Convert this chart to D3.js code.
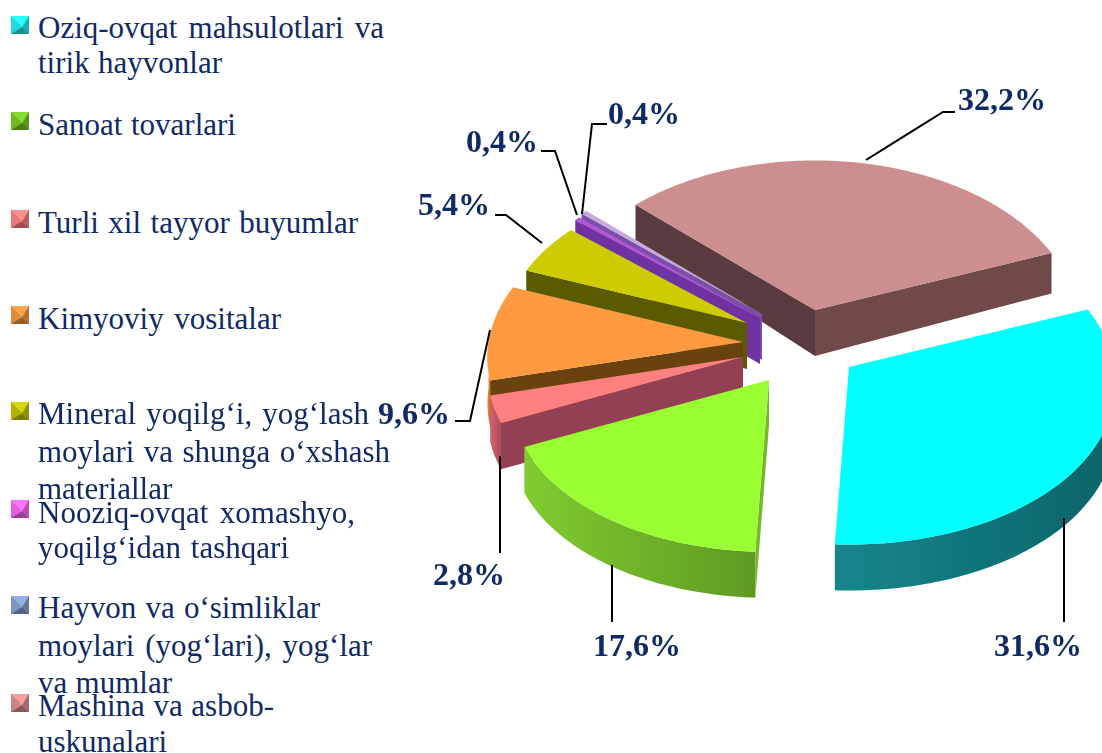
<!DOCTYPE html>
<html>
<head>
<meta charset="utf-8">
<style>
    html, body { margin: 0; padding: 0; background: #fff; }
    svg { display: block; }
    .legend text { font-family: "Liberation Serif", serif; font-size: 31px; fill: #0f2a66; }
    .label { font-family: "Liberation Serif", serif; font-size: 32px; font-weight: bold; fill: #0f2a66; }
    .leader { fill: none; stroke: #000; stroke-width: 2; }
</style>
</head>
<body>
<svg id="chart" width="1102" height="753"></svg>
<script src="https://cdn.jsdelivr.net/npm/d3@7"></script>
<script>
"use strict";

const categories = [
    "Oziq-ovqat mahsulotlari va tirik hayvonlar",
    "Sanoat tovarlari",
    "Turli xil tayyor buyumlar",
    "Kimyoviy vositalar",
    "Mineral yoqilg‘i, yog‘lash moylari va shunga o‘xshash materiallar",
    "Nooziq-ovqat xomashyo, yoqilg‘idan tashqari",
    "Hayvon va o‘simliklar moylari (yog‘lari), yog‘lar va mumlar",
    "Mashina va asbob-uskunalari",
];
const shares = [31.6, 17.6, 2.8, 9.6, 5.4, 0.4, 0.4, 32.2];

// how the legend text breaks on the page
const legendLines = [
    ["Oziq-ovqat mahsulotlari va", "tirik hayvonlar"],
    ["Sanoat tovarlari"],
    ["Turli xil tayyor buyumlar"],
    ["Kimyoviy vositalar"],
    ["Mineral yoqilg‘i, yog‘lash", "moylari va shunga o‘xshash", "materiallar"],
    ["Nooziq-ovqat xomashyo,", "yoqilg‘idan tashqari"],
    ["Hayvon va o‘simliklar", "moylari (yog‘lari), yog‘lar", "va mumlar"],
    ["Mashina va asbob-", "uskunalari"],
];

// colours, same order as the categories
const topColors =   ["#00ffff", "#99ff33", "#ff8080", "#ff9a40", "#cccc00", "#b455d8", "#c8a8e0", "#cc8e8e"];
const wallColors =  ["#0d6a6e", "#74b82c", "#933f55", "#6b420c", "#5a5a00", "#7030a0", "#7a50a8", "#5a3a3f"];
const wallColors2 = ["#0d6a6e", "#8ad62e", "#933f55", "#6b420c", "#5a5a00", "#7030a0", "#7a50a8", "#6f4a49"];
const rimLeft =     ["#14868c", "#80cc30", "#d8646e", "#e08a3a", "#a8a800", "#7030a0", "#7a50a8", "#5a3a3f"];
const rimRight =    ["#0d6468", "#5f9a22", "#a84a5a", "#c07830", "#8a8a00", "#7030a0", "#7a50a8", "#6f4a49"];
const swatchColors = ["#22d8dc", "#70b828", "#e87878", "#e08a40", "#b4b400", "#e060e0", "#7c94c0", "#cc8484"];

// layout of the exploded slices (slice tip on screen, slice size) and of the annotations
const tips = [[849, 367], [769, 380], [743, 357], [743, 342], [747, 323], [760, 318], [762, 314], [815, 310]];
const sizes = [1, 0.97, 0.96, 0.96, 0.92, 0.97, 0.97, 0.99];
const labelPos = [[994, 656], [593, 656], [433, 585], [378, 424], [418, 215], [466, 152], [608, 124], [958, 110]];
const leaders = [
    [[1064, 518], [1064, 622]],
    [[612, 565], [612, 622]],
    [[500, 456], [500, 553]],
    [[490, 330], [470, 421], [455, 421]],
    [[542, 243], [506, 215], [495, 215]],
    [[577, 215], [555, 151], [541, 151]],
    [[582, 214], [592, 124], [607, 124]],
    [[866, 160], [943, 112], [955, 112]],
];
const legendBaselines = [[38, 73], [135], [233], [329], [424, 462, 499], [523, 558], [618, 656, 693], [716, 752]];
const legendLineEnds = [[384, 222], [236], [358], [281], [369, 390, 172], [355, 289], [320, 372, 172], [274, 167]];
const swatchY = [16, 112, 210, 306, 402, 500, 596, 694];

const radiusX = 265, radiusY = 166, perspective = 0.1, depth = 46;
const startDeg = 69;
const rad = Math.PI / 180;

const svg = d3.select("#chart");
const defs = svg.append("defs");
defs.append("filter").attr("id", "soft")
    .attr("x", "-5%").attr("y", "-5%").attr("width", "110%").attr("height", "110%")
    .append("feGaussianBlur").attr("stdDeviation", 0.55);

const pie = d3.pie().sort(null).startAngle(startDeg * rad).endAngle((startDeg + 360) * rad);
const arcs = pie(shares).map((a, i) => ({...a, i}));

/** screen offset from the tip for an angle, relative radius r and drop z (0..1) */
function project(angle, r, z) {
    const v = r * Math.cos(angle);
    const w = 1 / (1 + perspective * v);
    const wy = v < 0 ? 1 / (1 + perspective * 0.65 * v) : w;
    const drop = z * depth * (1 - 0.35 * Math.max(0, v));
    return [radiusX * r * Math.sin(angle) * w, -radiusY * v * wy + drop];
}

function arcAngles(a0, a1) {
    const out = d3.range(a0, a1, rad);
    out.push(a1);
    return out;
}

const line = d3.line();
const closed = pts => line(pts) + "Z";

const pieLayer = svg.append("g").attr("filter", "url(#soft)");

// back to front: the last category is furthest away
const sliceGroups = pieLayer.selectAll("g.slice")
    .data(arcs.slice().reverse())
    .join("g")
    .attr("class", "slice");

sliceGroups.each(function(d) {
    const g = d3.select(this);
    const a0 = d.startAngle, a1 = d.endAngle, size = sizes[d.i];
    const at = (a, r, z) => project(a, r * size, z);
    g.attr("transform", `translate(${tips[d.i].join()})`);

    // radial walls, only the ones turned towards the viewer
    const wallOf = a => [at(a, 0, 0), at(a, 1, 0), at(a, 1, 1), at(a, 0, 1)];
    const startWall = wallOf(a0), endWall = wallOf(a1);
    if (d3.polygonArea(startWall) > 0) {
        g.append("path").attr("d", closed(startWall)).attr("fill", wallColors[d.i]);
    }
    if (d3.polygonArea(endWall) < 0) {
        g.append("path").attr("d", closed(endWall)).attr("fill", wallColors2[d.i]);
    }

    // rim: front half of the ellipse
    const ranges = [[Math.PI / 2, Math.PI * 1.5], [Math.PI * 2.5, Math.PI * 3.5]];
    for (const [lo, hi] of ranges) {
        const from = Math.max(a0, lo), to = Math.min(a1, hi);
        if (from >= to) continue;
        const angles = arcAngles(from, to);
        const pts = angles.map(a => at(a, 1, 0))
            .concat(angles.slice().reverse().map(a => at(a, 1, 1)));
        const grad = defs.append("linearGradient").attr("id", `rim${d.i}`);
        grad.append("stop").attr("offset", 0).attr("stop-color", rimLeft[d.i]);
        grad.append("stop").attr("offset", 1).attr("stop-color", rimRight[d.i]);
        g.append("path").attr("d", closed(pts)).attr("fill", `url(#rim${d.i})`);
    }

    // top face
    const top = [at(a0, 0, 0)].concat(arcAngles(a0, a1).map(a => at(a, 1, 0)));
    g.append("path").attr("d", closed(top)).attr("fill", topColors[d.i]);
});

// leaders and value labels
svg.append("g").selectAll("path")
    .data(leaders)
    .join("path")
    .attr("class", "leader")
    .attr("d", d => line(d));

const comma = d3.formatLocale({decimal: ",", thousands: " ", grouping: [3], currency: ["", ""]}).format(".1f");
svg.append("g").selectAll("text")
    .data(shares)
    .join("text")
    .attr("class", "label")
    .attr("x", (d, i) => labelPos[i][0])
    .attr("y", (d, i) => labelPos[i][1])
    .text(d => comma(d) + "%");

// legend
const legend = svg.append("g").attr("class", "legend");
const swatchSize = 18;
const entries = legend.selectAll("g")
    .data(categories)
    .join("g");

entries.each(function(d, i) {
    const g = d3.select(this);
    const x = 11, y = swatchY[i], s = swatchSize, c = swatchColors[i];
    const dark = d3.color(c).darker(1.1), darker = d3.color(c).darker(0.6), light = d3.color(c).brighter(0.5);
    const corner = [[x, y], [x + s, y], [x + s, y + s], [x, y + s]];
    const mid = [x + s * 0.62, y + s * 0.62];
    const swatch = g.append("g").attr("filter", "url(#soft)");
    swatch.append("path").attr("d", closed(corner)).attr("fill", c);
    swatch.append("path").attr("d", closed([corner[0], corner[1], mid])).attr("fill", light);
    swatch.append("path").attr("d", closed([corner[2], corner[3], mid])).attr("fill", dark);
    swatch.append("path").attr("d", closed([corner[1], corner[2], mid])).attr("fill", darker);

    legendLines[i].forEach((text, j) => {
        const t = g.append("text").attr("x", 38).attr("y", legendBaselines[i][j]).text(text);
        const spaces = text.split(" ").length - 1;
        if (spaces) {
            const extra = legendLineEnds[i][j] - 38 - t.node().getComputedTextLength();
            t.attr("word-spacing", extra / spaces);
        }
    });
});
</script>
</body>
</html>
